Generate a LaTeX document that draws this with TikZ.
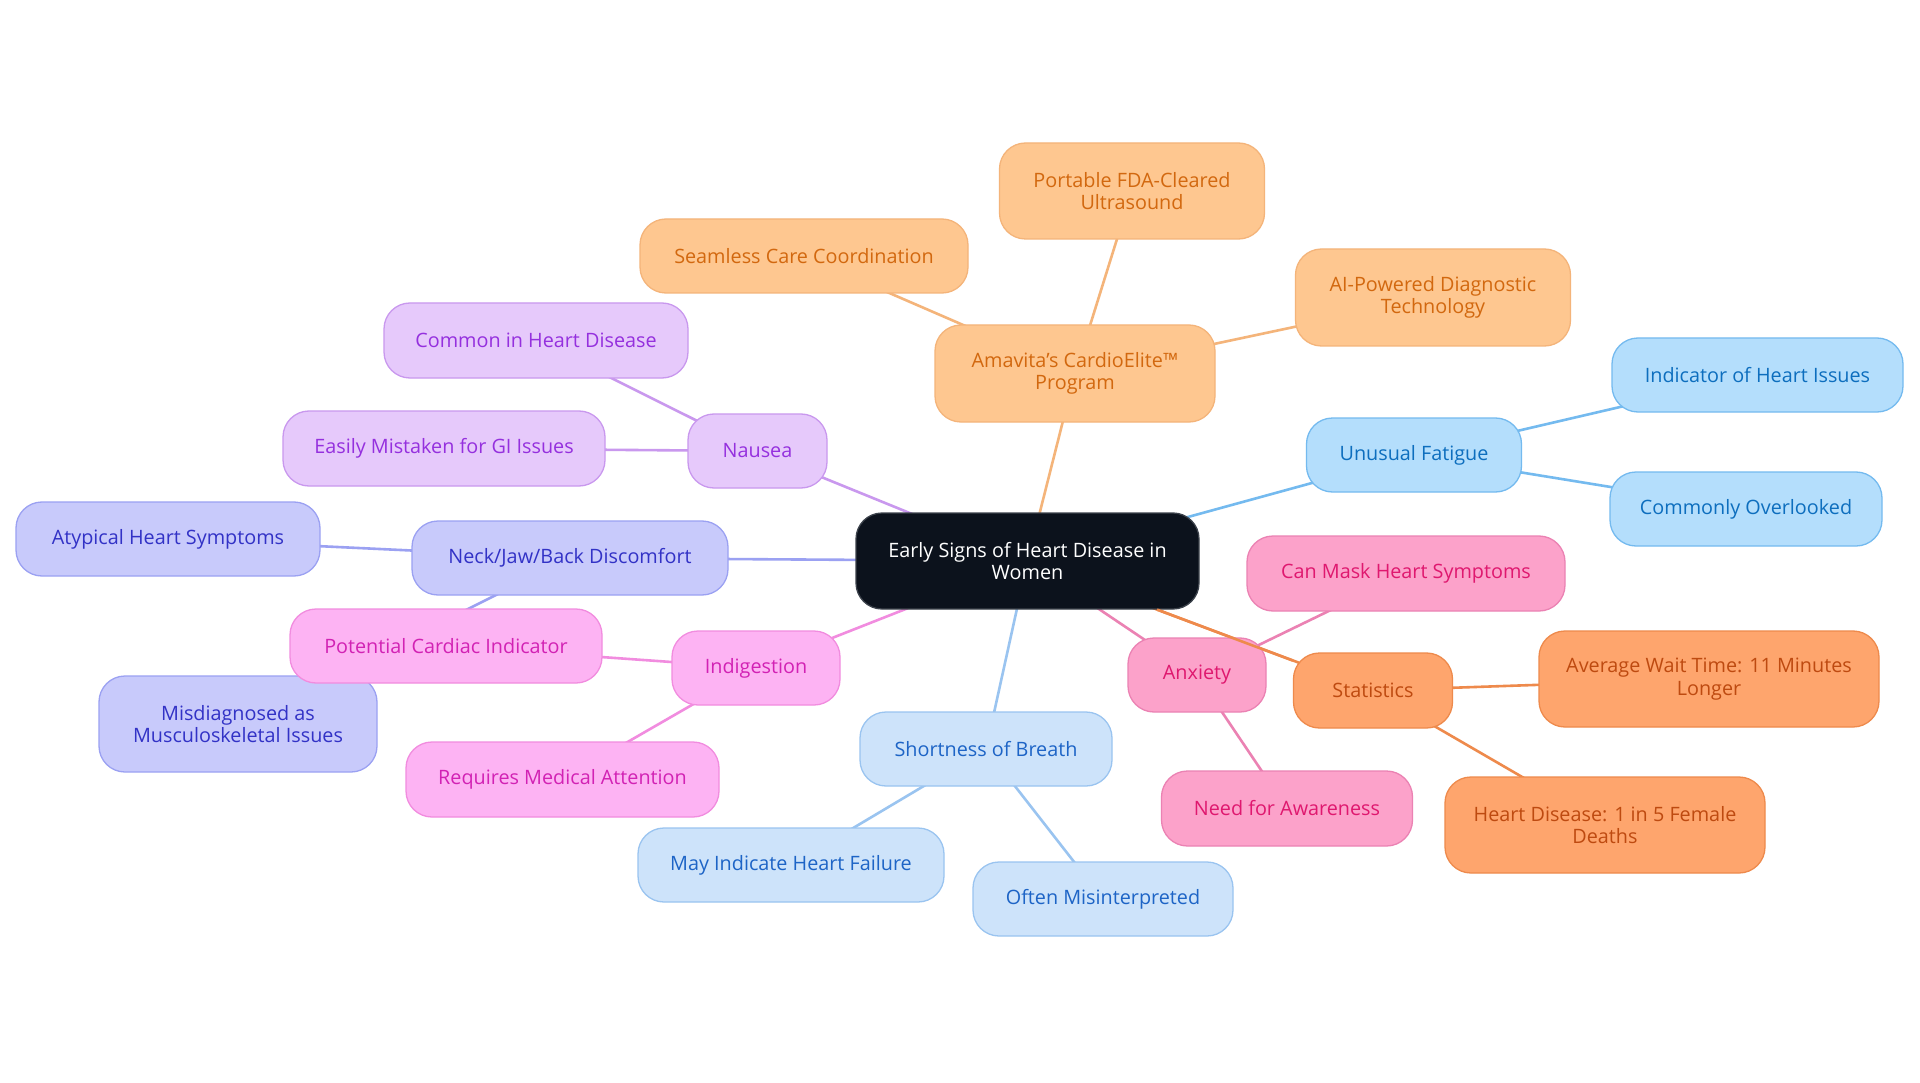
\documentclass[tikz,border=0pt]{standalone}
\usepackage{fontspec}
\setmainfont{Open Sans}
\usetikzlibrary{backgrounds}
\definecolor{cdark}{HTML}{0C121C}
\definecolor{cdarkb}{HTML}{3C424B}
% amber group
\definecolor{amF}{HTML}{FEC790}\definecolor{amD}{HTML}{F4B47A}\definecolor{amT}{HTML}{D2680F}
% purple
\definecolor{puF}{HTML}{E6C9FB}\definecolor{puD}{HTML}{C998EE}\definecolor{puT}{HTML}{9530DE}
% indigo
\definecolor{inF}{HTML}{C8CAFB}\definecolor{inD}{HTML}{9BA1F2}\definecolor{inT}{HTML}{3232C6}
% pink
\definecolor{piF}{HTML}{FDB3F3}\definecolor{piD}{HTML}{F18CDF}\definecolor{piT}{HTML}{D222B4}
% light blue
\definecolor{lbF}{HTML}{CDE3FA}\definecolor{lbD}{HTML}{9AC4F0}\definecolor{lbT}{HTML}{1D64C6}
% rose
\definecolor{roF}{HTML}{FCA2CA}\definecolor{roD}{HTML}{EB82B3}\definecolor{roT}{HTML}{DF186F}
% orange
\definecolor{orF}{HTML}{FEA56D}\definecolor{orD}{HTML}{EE8A4C}\definecolor{orT}{HTML}{BE4A10}
% sky
\definecolor{skF}{HTML}{B4DEFC}\definecolor{skD}{HTML}{74BAEF}\definecolor{skT}{HTML}{0D6EBE}
\tikzset{
  box/.style={rounded corners=26pt, line width=1.3pt, align=center, inner sep=0pt,
    font=\fontsize{19.8}{22.5}\selectfont},
  rootbox/.style={box, fill=cdark, draw=cdarkb, text=white},
  amber/.style={box, fill=amF, draw=amD, text=amT},
  purp/.style={box, fill=puF, draw=puD, text=puT},
  indi/.style={box, fill=inF, draw=inD, text=inT},
  pnk/.style={box, fill=piF, draw=piD, text=piT},
  lblu/.style={box, fill=lbF, draw=lbD, text=lbT},
  rose/.style={box, fill=roF, draw=roD, text=roT},
  orng/.style={box, fill=orF, draw=orD, text=orT},
  sky/.style={box, fill=skF, draw=skD, text=skT},
  sz/.style 2 args={minimum width=#1pt, minimum height=#2pt},
  link/.style={line width=2.6pt}
}
\begin{document}
\begin{tikzpicture}[x=1pt,y=-1pt]
\useasboundingbox (0,0) rectangle (1920,1083);
% root
\node[rootbox, sz={343}{96}] (root) at (1027.5,561) {Early Signs of Heart Disease in\\Women};
% amber branch
\node[amber, sz={280}{97}] (ama) at (1075,373.5) {Amavita's CardioElite™\\Program};
\node[amber, sz={328}{74}] (sea) at (804,256) {Seamless Care Coordination};
\node[amber, sz={265}{96}] (por) at (1132,191) {Portable FDA-Cleared\\Ultrasound};
\node[amber, sz={275}{97}] (ai) at (1433,297.5) {AI-Powered Diagnostic\\Technology};
% purple branch
\node[purp, sz={139}{74}] (nau) at (757.5,451) {Nausea};
\node[purp, sz={304}{75}] (com) at (536,340.5) {Common in Heart Disease};
\node[purp, sz={322}{75}] (eas) at (444,448.5) {Easily Mistaken for GI Issues};
% indigo branch
\node[indi, sz={316}{74}] (nec) at (570,558) {Neck/Jaw/Back Discomfort};
\node[indi, sz={304}{74}] (aty) at (168,539) {Atypical Heart Symptoms};
\node[indi, sz={278}{96}] (mis) at (238,724) {Misdiagnosed as\\Musculoskeletal Issues};
% pink branch
\node[pnk, sz={168}{74}] (ind) at (756,668) {Indigestion};
\node[pnk, sz={312}{74}] (pci) at (446,646) {Potential Cardiac Indicator};
\node[pnk, sz={313}{75}] (req) at (562.5,779.5) {Requires Medical Attention};
% light blue branch
\node[lblu, sz={252}{74}] (sob) at (986,749) {Shortness of Breath};
\node[lblu, sz={306}{74}] (may) at (791,865) {May Indicate Heart Failure};
\node[lblu, sz={260}{74}] (oft) at (1103,899) {Often Misinterpreted};
% rose branch
\node[rose, sz={138}{74}] (anx) at (1197,675) {Anxiety};
\node[rose, sz={318}{75}] (can) at (1406,573.5) {Can Mask Heart Symptoms};
\node[rose, sz={251}{75}] (nee) at (1287,808.5) {Need for Awareness};
% orange branch
\node[orng, sz={159}{75}] (sta) at (1373,690.5) {Statistics};
\node[orng, sz={340}{96}] (avg) at (1709,679) {Average Wait Time: 11 Minutes\\Longer};
\node[orng, sz={320}{96}] (hd) at (1605,825) {Heart Disease: 1 in 5 Female\\Deaths};
% sky branch
\node[sky, sz={215}{74}] (fat) at (1414,455) {Unusual Fatigue};
\node[sky, sz={291}{74}] (ihi) at (1757.5,375) {Indicator of Heart Issues};
\node[sky, sz={272}{74}] (col) at (1746,509) {Commonly Overlooked};
% white page and connectors (centre to centre) underneath the boxes
\begin{scope}[on background layer]
\fill[white] (0,0) rectangle (1920,1083);
\draw[link, amD] (root.center) -- (ama.center);
\draw[link, amD] (ama.center) -- (sea.center);
\draw[link, amD] (ama.center) -- (por.center);
\draw[link, amD] (ama.center) -- (ai.center);
\draw[link, puD] (root.center) -- (nau.center);
\draw[link, puD] (nau.center) -- (com.center);
\draw[link, puD] (nau.center) -- (eas.center);
\draw[link, inD] (root.center) -- (nec.center);
\draw[link, inD] (nec.center) -- (aty.center);
\draw[link, inD] (nec.center) -- (mis.center);
\draw[link, piD] (root.center) -- (ind.center);
\draw[link, piD] (ind.center) -- (pci.center);
\draw[link, piD] (ind.center) -- (req.center);
\draw[link, lbD] (root.center) -- (sob.center);
\draw[link, lbD] (sob.center) -- (may.center);
\draw[link, lbD] (sob.center) -- (oft.center);
\draw[link, roD] (root.center) -- (anx.center);
\draw[link, roD] (anx.center) -- (can.center);
\draw[link, roD] (anx.center) -- (nee.center);
\draw[link, orD] (root.center) -- (sta.center);
\draw[link, orD] (sta.center) -- (avg.center);
\draw[link, orD] (sta.center) -- (hd.center);
\draw[link, skD] (root.center) -- (fat.center);
\draw[link, skD] (fat.center) -- (ihi.center);
\draw[link, skD] (fat.center) -- (col.center);
\end{scope}
% the root-Statistics connector also runs over the Anxiety box
\draw[link, orD] (root) -- (sta);
\end{tikzpicture}
\end{document}
